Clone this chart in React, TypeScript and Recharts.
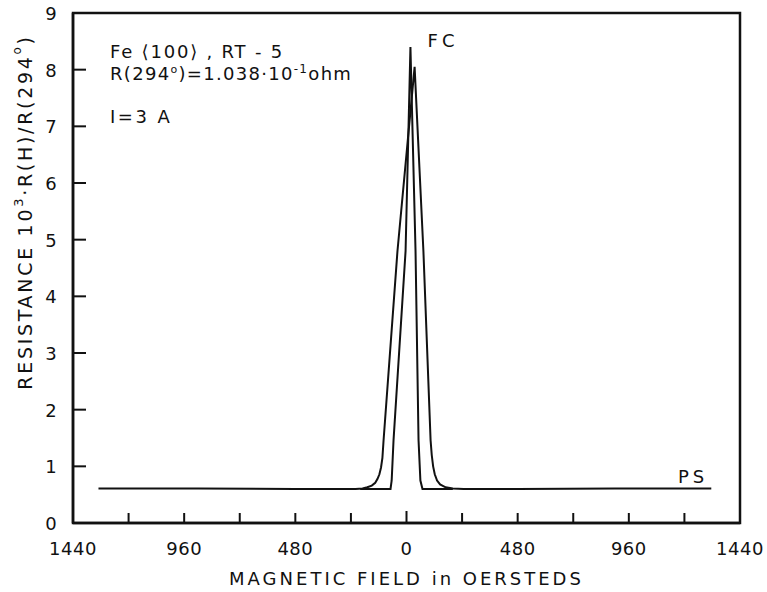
import React from 'react';
import { LineChart, Line, XAxis, YAxis, ReferenceArea, ReferenceDot } from 'recharts';

// Magnetic field ticks (Oe) and resistance ticks
const fieldTicks = [-1440, -1200, -960, -720, -480, -240, 0, 240, 480, 720, 960, 1200, 1440];
const resistanceTicks = [0, 1, 2, 3, 4, 5, 6, 7, 8, 9];

// Wider curve (rounded shoulders)
const outerField = [-1330, -900, -480, -300, -220, -190, -169, -150, -135, -125, -117, -110, -104, -99, -39, 35, 73, 104, 109, 115, 122, 132, 145, 169, 200, 246, 480, 900, 1316];
const outerResistance = [0.61, 0.61, 0.6, 0.6, 0.6, 0.61, 0.63, 0.66, 0.71, 0.78, 0.86, 0.98, 1.15, 1.46, 4.8, 8.05, 4.8, 1.46, 1.2, 1.0, 0.86, 0.75, 0.68, 0.63, 0.61, 0.6, 0.6, 0.61, 0.61];

// Narrow curve (sharp corners)
const innerField = [-200, -69, -64, -56, -4, 17, 39, 52, 60, 69, 200];
const innerResistance = [0.6, 0.6, 0.75, 1.46, 4.8, 8.4, 4.8, 1.46, 0.75, 0.6, 0.6];

const outerData = outerField.map((f, i) => ({ field: f, r: outerResistance[i] }));
const innerData = innerField.map((f, i) => ({ field: f, r: innerResistance[i] }));

const FONT = '"DejaVu Sans", sans-serif';
const INK = '#111';

const XTick = (props: any) => {
  const { x, y, payload } = props;
  const v = payload.value as number;
  const major = v % 480 === 0;
  const edge = Math.abs(v) === 1440;
  return (
    <g>
      {!edge && <line x1={x} x2={x} y1={y} y2={y - (v === 0 ? 12 : 10)} stroke={INK} strokeWidth={2} />}
      {major && (
        <text x={x} y={y + 32} textAnchor="middle" fontFamily={FONT} fontSize={18} fill={INK} letterSpacing={0.5}>
          {Math.abs(v)}
        </text>
      )}
    </g>
  );
};

const YTick = (props: any) => {
  const { x, y, payload } = props;
  const v = payload.value as number;
  return (
    <g>
      {v !== 0 && v !== 9 && <line x1={x} x2={x + 13} y1={y} y2={y} stroke={INK} strokeWidth={2} />}
      <text x={x - 22} y={y + 7} textAnchor="middle" fontFamily={FONT} fontSize={18} fill={INK}>
        {v}
      </text>
    </g>
  );
};

const YTitle = (props: any) => {
  const { viewBox } = props;
  const cx = viewBox.x + 25;
  const cy = viewBox.y + viewBox.height / 2 - 56;
  return (
    <text
      x={cx}
      y={cy}
      transform={`rotate(-90 ${cx} ${cy})`}
      textAnchor="middle"
      dominantBaseline="central"
      fontFamily={FONT}
      fontSize={19}
      fill={INK}
      letterSpacing={2.7}
    >
      RESISTANCE 10<tspan fontSize={13} dy={-7}>3</tspan>
      <tspan dy={7}>·R(H)/R(294</tspan>
      <tspan fontSize={12} dy={-8}>o</tspan>
      <tspan dy={8}>)</tspan>
    </text>
  );
};

const XTitle = (props: any) => {
  const { viewBox } = props;
  const cx = viewBox.x + viewBox.width / 2;
  return (
    <text x={cx} y={viewBox.y + 62} textAnchor="middle" fontFamily={FONT} fontSize={18} fill={INK} letterSpacing={3}>
      MAGNETIC FIELD in OERSTEDS
    </text>
  );
};

const note = (content: React.ReactNode, spacing = 1) => (props: any) => (
  <text x={props.cx} y={props.cy} fontFamily={FONT} fontSize={18} fill={INK} letterSpacing={spacing}>
    {content}
  </text>
);

export default function App() {
  return (
    <div style={{ position: 'absolute', left: 0, top: 0 }}>
      <LineChart width={767} height={592} margin={{ top: 13, right: 27, bottom: 0, left: 0 }}>
        <XAxis
          dataKey="field"
          type="number"
          domain={[-1440, 1440]}
          ticks={fieldTicks}
          allowDataOverflow
          tickSize={0}
          tickMargin={0}
          tickLine={false}
          tick={<XTick />}
          interval={0}
          height={69}
          axisLine={{ stroke: INK, strokeWidth: 2.5 }}
          label={<XTitle />}
        />
        <YAxis
          type="number"
          domain={[0, 9]}
          ticks={resistanceTicks}
          tickSize={0}
          tickMargin={0}
          tickLine={false}
          tick={<YTick />}
          interval={0}
          width={73}
          axisLine={{ stroke: INK, strokeWidth: 2.5 }}
          label={<YTitle />}
        />
        <ReferenceArea x1={-1440} x2={1440} y1={0} y2={9} fill="none" stroke={INK} strokeWidth={2.5} />
        <Line data={outerData} dataKey="r" type="linear" stroke={INK} strokeWidth={2} dot={false} isAnimationActive={false} />
        <Line data={innerData} dataKey="r" type="linear" stroke={INK} strokeWidth={2} dot={false} isAnimationActive={false} />
        <ReferenceDot x={-1280} y={8.2} r={0} shape={note(<>Fe  ⟨100⟩ , RT - 5</>, 1.8)} />
        <ReferenceDot
          x={-1280}
          y={7.82}
          r={0}
          shape={note(
            <>
              R(294<tspan fontSize={11} dy={-7}>o</tspan>
              <tspan dy={7}>)=1.038·10</tspan>
              <tspan fontSize={12} dy={-7}>-1</tspan>
              <tspan dy={7}>ohm</tspan>
            </>,
            1.3
          )}
        />
        <ReferenceDot x={-1280} y={7.06} r={0} shape={note(<>I=3 A</>, 2.5)} />
        <ReferenceDot x={91} y={8.4} r={0} shape={note(<>FC</>, 4)} />
        <ReferenceDot x={1172} y={0.71} r={0} shape={note(<>PS</>, 4)} />
      </LineChart>
    </div>
  );
}
